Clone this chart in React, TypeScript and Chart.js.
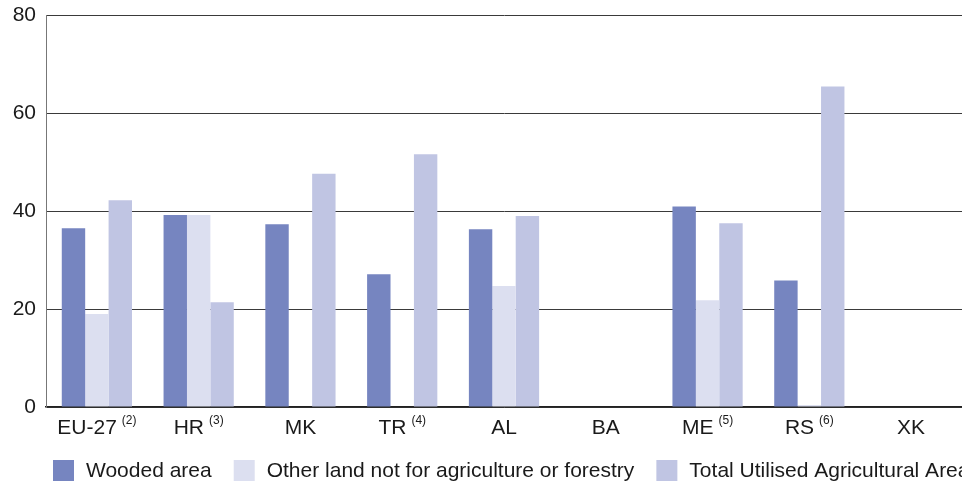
import React, { useEffect, useRef } from "react";
import { Chart, registerables } from "chart.js";

Chart.register(...registerables);

// Land use shares (%) by country
const categories = ["EU-27", "HR", "MK", "TR", "AL", "BA", "ME", "RS", "XK"];
const footnotes = ["(2)", "(3)", "", "(4)", "", "", "(5)", "(6)", ""];

const woodedArea = [36.5, 39.2, 37.3, 27.1, 36.3, null, 40.9, 25.8, null];
const otherLand = [19.0, 39.2, null, null, 24.7, null, 21.8, 0.4, null];
const totalUAA = [42.2, 21.4, 47.6, 51.6, 39.0, null, 37.5, 65.4, null];

const seriesLabels = [
  "Wooded area",
  "Other land not for agriculture or forestry",
  "Total Utilised Agricultural Area",
];
const seriesColors = ["#7685c0", "#dcdff0", "#c0c5e3"];

const yTicks = [0, 20, 40, 60, 80];

const FONT = "'Liberation Sans', Arial, Helvetica, sans-serif";
const TEXT = "#1a1a1a";

// Draws category labels with raised footnote markers, and the bottom legend.
const labelsAndLegend = {
  id: "labelsAndLegend",
  afterDraw(chart: any) {
    const { ctx } = chart;
    const xScale = chart.scales.x;
    const main = `21px ${FONT}`;
    const sup = `12px ${FONT}`;
    ctx.save();
    ctx.fillStyle = TEXT;
    ctx.textBaseline = "alphabetic";
    ctx.textAlign = "left";
    const baseY = chart.chartArea.bottom + 27;
    categories.forEach((cat, i) => {
      const note = footnotes[i];
      ctx.font = main;
      const w1 = ctx.measureText(cat).width;
      let w2 = 0;
      const gap = note ? 5 : 0;
      if (note) {
        ctx.font = sup;
        w2 = ctx.measureText(note).width;
      }
      const cx = xScale.getPixelForValue(i);
      const start = cx - (w1 + gap + w2) / 2;
      ctx.font = main;
      ctx.fillText(cat, start, baseY);
      if (note) {
        ctx.font = sup;
        ctx.fillText(note, start + w1 + gap, baseY - 10);
      }
    });

    // legend
    const boxSize = 21;
    const boxTop = chart.chartArea.bottom + 53;
    let x = 53;
    chart.data.datasets.forEach((ds: any) => {
      ctx.fillStyle = ds.backgroundColor;
      ctx.fillRect(x, boxTop, boxSize, boxSize);
      x += boxSize + 12;
      ctx.fillStyle = TEXT;
      ctx.font = main;
      ctx.textBaseline = "middle";
      ctx.fillText(ds.label, x, boxTop + boxSize / 2 + 1);
      x += ctx.measureText(ds.label).width + 22;
    });
    ctx.restore();
  },
};

export default function App() {
  const canvasRef = useRef<HTMLCanvasElement | null>(null);

  useEffect(() => {
    if (!canvasRef.current) return;
    const values = [woodedArea, otherLand, totalUAA];
    const chart = new Chart(canvasRef.current, {
      type: "bar",
      data: {
        labels: categories,
        datasets: values.map((data, i) => ({
          label: seriesLabels[i],
          data,
          backgroundColor: seriesColors[i],
          borderWidth: 0,
          categoryPercentage: 0.69,
          barPercentage: 1.0,
        })),
      },
      plugins: [labelsAndLegend],
      options: {
        animation: false,
        responsive: true,
        maintainAspectRatio: false,
        layout: { padding: { top: 15, right: 0, bottom: 0, left: 0 } },
        plugins: {
          legend: { display: false },
          tooltip: { enabled: false },
        },
        scales: {
          x: {
            grid: { display: false, drawTicks: false },
            border: { display: true, color: "#222", width: 1.5 },
            ticks: { display: false },
            afterFit(scale: any) {
              scale.height = 75;
            },
          },
          y: {
            min: 0,
            max: 80,
            afterBuildTicks(scale: any) {
              scale.ticks = yTicks.map((v) => ({ value: v }));
            },
            grid: { color: "#3a3a3a", lineWidth: 1, drawTicks: false },
            border: { display: true, color: "#777", width: 1 },
            ticks: {
              color: TEXT,
              padding: 10,
              font: { family: FONT, size: 21 },
            },
            afterFit(scale: any) {
              scale.width = 46;
              scale.paddingTop = 0;
              scale.paddingBottom = 0;
            },
          },
        },
      },
    });
    return () => chart.destroy();
  }, []);

  return (
    <div
      style={{
        position: "absolute",
        left: 0,
        top: 0,
        width: 962,
        height: 482,
        background: "#fff",
      }}
    >
      <canvas ref={canvasRef} />
    </div>
  );
}
